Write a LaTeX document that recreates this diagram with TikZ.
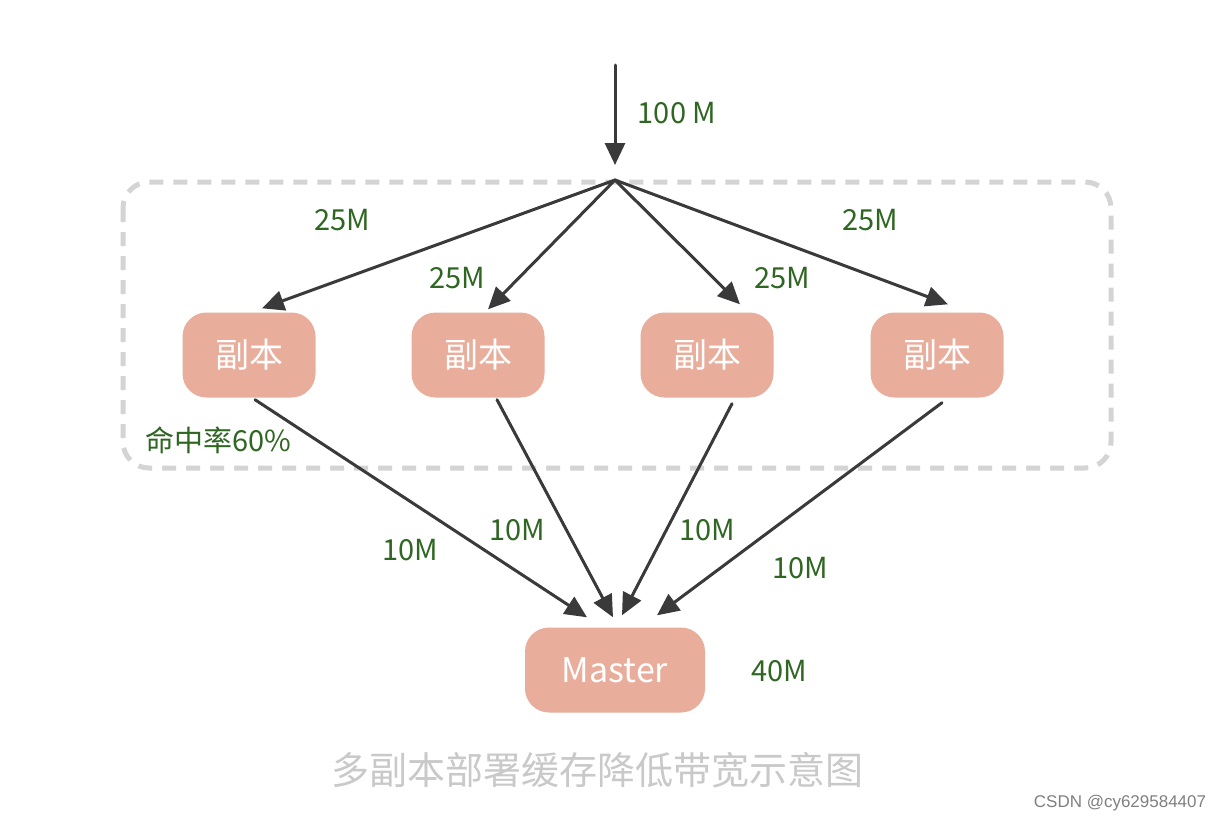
\documentclass[tikz,border=0pt]{standalone}
\usepackage{fontspec}
\setmainfont{Noto Sans CJK SC}
\newfontfamily\markfont{Liberation Sans}
\usetikzlibrary{arrows.meta}

\definecolor{boxfill}{HTML}{E9AD9B}
\definecolor{labgreen}{HTML}{2F6622}
\definecolor{linegray}{HTML}{3A3A3A}
\definecolor{dashgray}{HTML}{D4D4D4}
\definecolor{capgray}{HTML}{C9C9C9}

\begin{document}
\begin{tikzpicture}[x=1pt, y=-1pt,
    copybox/.style={fill=boxfill, rounded corners=24pt, minimum width=133pt, minimum height=85pt,
      text=white, font=\fontsize{34}{34}\selectfont},
    flow/.style={draw=linegray, line width=3pt, line cap=round,
      -{Triangle[length=22pt, width=20pt]}},
    lab/.style={text=labgreen, font=\fontsize{29}{29}\selectfont}]
  \useasboundingbox[fill=white] (0,0) rectangle (1228,822);

  % cache region
  \draw[dashgray, line width=5pt, dash pattern=on 14pt off 10pt, rounded corners=26pt]
    (123,182) rectangle (1111,468);

  % input
  \coordinate (src) at (615,65);
  \coordinate (split) at (615,180);
  \draw[flow] (src) -- ([yshift=15pt]split);
  \node[lab] (in) at (677,113) {100 M};

  % replicas and master
  \node[copybox] (r1) at (249,355) {副本};
  \node[copybox] (r2) at (478,355) {副本};
  \node[copybox] (r3) at (707,355) {副本};
  \node[copybox] (r4) at (937,355) {副本};
  \node[copybox, minimum width=180pt] (m) at (615,670) {Master};

  % split to replicas
  \draw[flow] (split) -- ([xshift=13pt, yshift=4pt]r1.north);
  \draw[flow] (split) -- ([xshift=10pt, yshift=3pt]r2.north);
  \draw[flow] (split) -- ([xshift=33pt, yshift=8pt]r3.north);
  \draw[flow] (split) -- ([xshift=11pt, yshift=8pt]r4.north);
  \node[lab] (a1) at (342,220) {25M};
  \node[lab] (a2) at (457,278) {25M};
  \node[lab] (a3) at (782,278) {25M};
  \node[lab] (a4) at (870,220) {25M};

  % replicas to master
  \draw[flow] ([xshift=6pt, yshift=-2pt]r1.south) -- ([xshift=-28pt, yshift=10pt]m.north);
  \draw[flow] ([xshift=19pt, yshift=-2pt]r2.south) -- ([xshift=-2pt, yshift=10pt]m.north);
  \draw[flow] ([xshift=25pt, yshift=-6pt]r3.south) -- ([xshift=7pt, yshift=12pt]m.north);
  \draw[flow] ([xshift=5pt, yshift=-5pt]r4.south) -- ([xshift=42pt, yshift=12pt]m.north);
  \node[lab] (b1) at (410,550) {10M};
  \node[lab] (b2) at (517,530) {10M};
  \node[lab] (b3) at (707,530) {10M};
  \node[lab] (b4) at (800,568) {10M};

  \node[lab] (hit) at (218,440) {命中率60\%};
  \node[lab] (out) at (779,671) {40M};

  % caption
  \node[text=capgray, font=\fontsize{38}{38}\selectfont] (cap) at (597,770) {多副本部署缓存降低带宽示意图};
  \node[text=gray, font=\markfont\fontsize{17}{17}\selectfont] (mark) at (1120,803) {CSDN @cy629584407};
\end{tikzpicture}
\end{document}
